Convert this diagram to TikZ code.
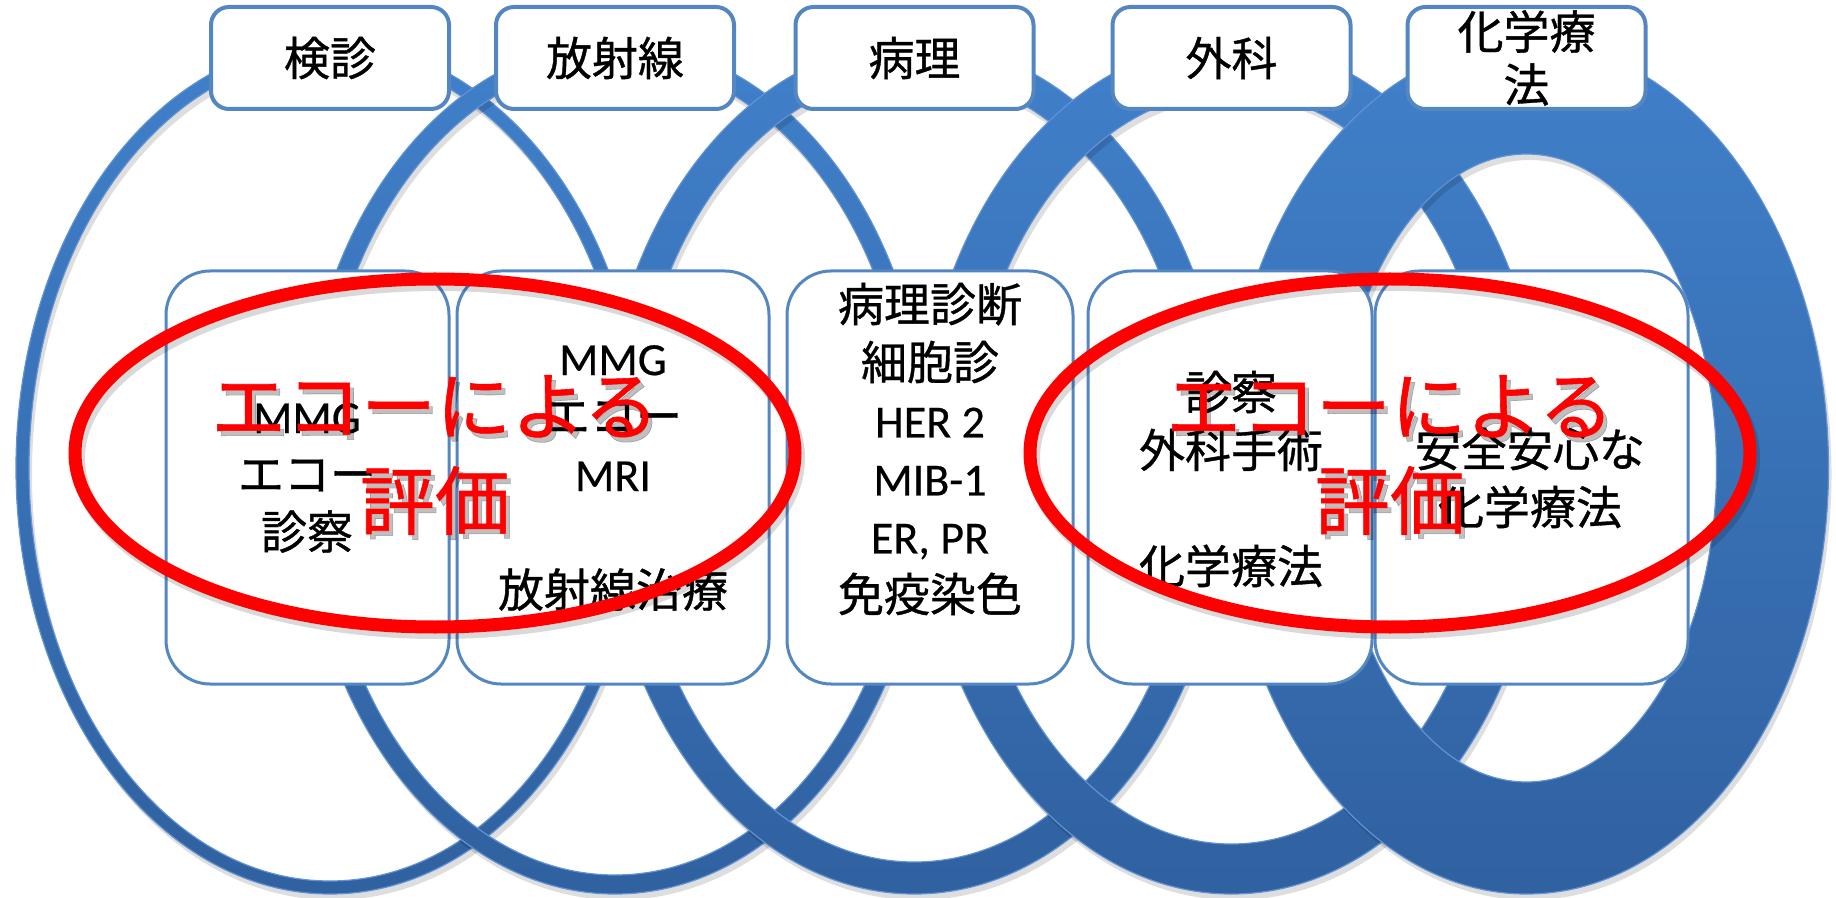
\documentclass[tikz,border=0pt]{standalone}
\usepackage{fontspec}
\setmainfont{Carlito}[FakeBold=0.4]
\newfontfamily\jp{Noto Sans CJK JP}[FakeBold=0.8]
\definecolor{ringtop}{RGB}{64,128,202}
\definecolor{ringbot}{RGB}{48,97,160}
\definecolor{ringedge}{RGB}{96,146,212}
\definecolor{boxline}{RGB}{84,134,194}
\newcommand\txtfont{\fontsize{23pt}{29pt}\selectfont}
\newcommand\redfont{\fontsize{37.5pt}{47.5pt}\selectfont\jp}
% #1 = centre x (px), #2 = outer x radius (pt), #3 = ring thickness (pt)
\newcommand\drawring[3]{%
  \pgfmathsetmacro\ria{#2-#3}%
  \pgfmathsetmacro\rib{213-#3}%
  \fill[black,opacity=0.13,even odd rule] ({#1+3},474) ellipse [x radius=#2pt, y radius=213pt]
        ({#1+3},474) ellipse [x radius=\ria pt, y radius=\rib pt];
  \shadedraw[top color=ringtop, bottom color=ringbot, draw=ringedge, line width=0.6pt, even odd rule]
        (#1,468) ellipse [x radius=#2pt, y radius=213pt]
        (#1,468) ellipse [x radius=\ria pt, y radius=\rib pt];
}
\tikzset{
  topbox/.style={draw=boxline, line width=2pt, fill=white, rounded corners=9pt,
    minimum width=119pt, minimum height=51pt, inner sep=0pt, align=center, font=\txtfont},
  botbox/.style={draw=boxline, line width=1.5pt, fill=white, rounded corners=22pt,
    minimum height=206.5pt, inner sep=0pt},
  boxtext/.style={align=center, font=\txtfont, inner sep=0pt},
  redring/.style={draw=red, line width=6.5pt},
  redshadow/.style={draw=black, line width=7pt, opacity=0.15},
  redtext/.style={text=red, align=center, font=\redfont, inner sep=0pt},
  redtextshadow/.style={text=black, opacity=0.25, align=center, font=\redfont, inner sep=0pt},
}
\begin{document}
\begin{tikzpicture}[x=0.5pt,y=-0.5pt]
\useasboundingbox (0,0) rectangle (1836,898);
\clip (0,0) rectangle (1836,898);
% rings, left to right, each above the previous one
\drawring{330}{157}{6.5}
\drawring{615}{157}{9.5}
\drawring{914.5}{157}{16}
\drawring{1231.5}{157}{25}
\drawring{1526.5}{151}{56}
% top labels
\node[topbox] (kenshin) at (330,58) {{\jp 検診}};
\node[topbox] (hoshasen) at (615,58) {{\jp 放射線}};
\node[topbox] (byori) at (914.5,58) {{\jp 病理}};
\node[topbox] (geka) at (1231.5,58) {{\jp 外科}};
\node[topbox, font=\fontsize{23pt}{26.5pt}\selectfont] (kagaku) at (1526.5,58) {{\jp 化学療}\\{\jp 法}};
% bottom boxes
\node[botbox, minimum width=141.5pt] (boxA) at (307.5,477.5) {};
\node[botbox, minimum width=156pt] (boxB) at (613,477.5) {};
\node[botbox, minimum width=143pt] (boxC) at (930,477.5) {};
\node[botbox, minimum width=142pt] (boxD) at (1230,477.5) {};
\node[botbox, minimum width=156.5pt] (boxE) at (1531.5,477.5) {};
% box texts
\node[boxtext] (tA) at (307,478) {MMG\\{\jp エコー}\\{\jp 診察}};
\node[boxtext] (tB) at (613,478) {MMG\\{\jp エコー}\\MRI\\[29pt]{\jp 放射線治療}};
\node[boxtext] (tC) at (930,449) {{\jp 病理診断}\\{\jp 細胞診}\\HER 2\\MIB-1\\ER, PR\\{\jp 免疫染色}};
\node[boxtext] (tD) at (1231,479) {{\jp 診察}\\{\jp 外科手術}\\[29pt]{\jp 化学療法}};
\node[boxtext] (tE) at (1530,478) {{\jp 安全安心な}\\{\jp 化学療法}};
% red evaluation marks
\draw[redshadow] (438,458) ellipse [x radius=180pt, y radius=87pt];
\draw[redring] (435,453) ellipse [x radius=180pt, y radius=87pt];
\draw[redshadow] (1393,458) ellipse [x radius=180pt, y radius=87pt];
\draw[redring] (1390,453) ellipse [x radius=180pt, y radius=87pt];
\node[redtextshadow] (eval1s) at (439,460) {エコーによる\\評価};
\node[redtext] (eval1) at (435,455) {エコーによる\\評価};
\node[redtextshadow] (eval2s) at (1394,460) {エコーによる\\評価};
\node[redtext] (eval2) at (1390,455) {エコーによる\\評価};
\end{tikzpicture}
\end{document}
